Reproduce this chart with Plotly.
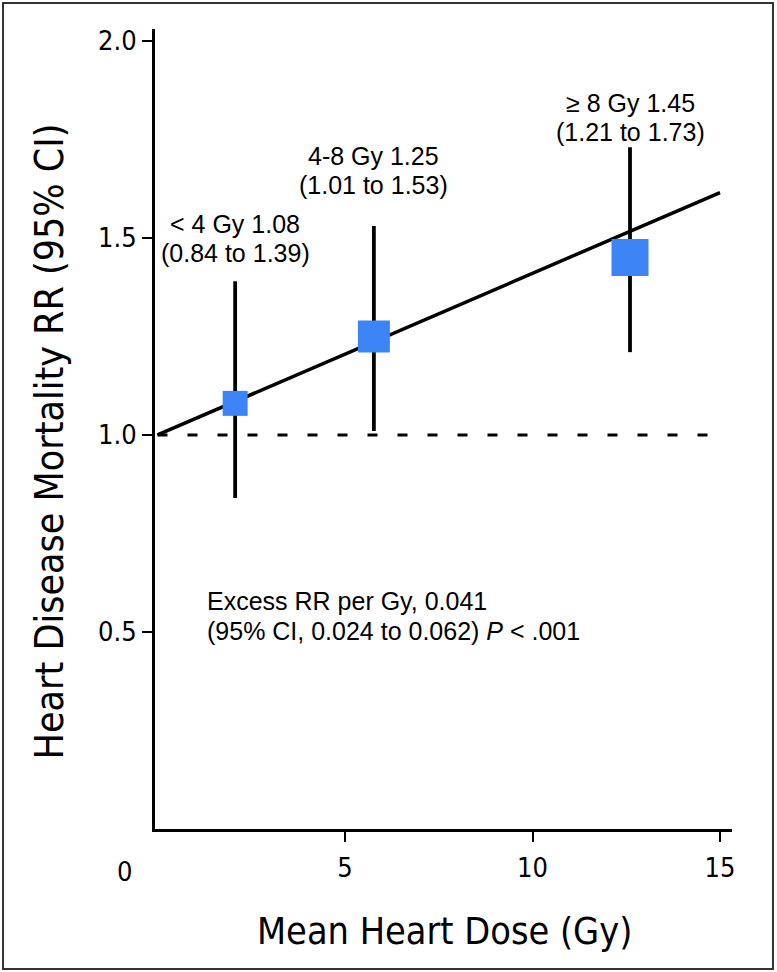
import plotly.graph_objects as go

# Data
dose_groups = ["< 4 Gy", "4-8 Gy", "≥ 8 Gy"]
mean_dose = [2.07, 5.77, 12.6]
rr = [1.08, 1.25, 1.45]
ci_low = [0.84, 1.01, 1.21]
ci_high = [1.39, 1.53, 1.73]
excess_rr_per_gy = 0.041
excess_ci = "0.024 to 0.062"
fit_dose = [0, 15]
x_ticks = [5, 10, 15]
y_ticks = [0.5, 1.0, 1.5, 2.0]

marker_sizes = [25, 32, 37]
label_yshift = [28, 41, 15]
blue = "#3D85F6"
cond = "DejaVu Sans Condensed, Liberation Sans Narrow, sans-serif"
sans = "Liberation Sans, Arial, Helvetica, sans-serif"

fig = go.Figure()

# reference line RR = 1
fig.add_trace(go.Scatter(
    x=fit_dose, y=[1.0, 1.0], mode="lines",
    line=dict(color="black", width=3, dash="10px,20px"),
    hoverinfo="skip", showlegend=False))

# fitted line
fig.add_trace(go.Scatter(
    x=fit_dose, y=[1 + excess_rr_per_gy * d for d in fit_dose], mode="lines",
    line=dict(color="black", width=3.5),
    hoverinfo="skip", showlegend=False))

# CI bars
ex, ey = [], []
for d, lo, hi in zip(mean_dose, ci_low, ci_high):
    ex += [d, d, None]
    ey += [lo, hi, None]
fig.add_trace(go.Scatter(
    x=ex, y=ey, mode="lines", line=dict(color="black", width=3.8),
    hoverinfo="skip", showlegend=False))

# point estimates
fig.add_trace(go.Scatter(
    x=mean_dose, y=rr, mode="markers", opacity=1,
    marker=dict(symbol="square", size=marker_sizes, color=blue, opacity=1,
                line=dict(width=0)),
    showlegend=False))

annotations = []
for g, d, r, lo, hi, ys in zip(dose_groups, mean_dose, rr, ci_low, ci_high, label_yshift):
    for k, line in enumerate([f"{g} {r:.2f}", f"({lo:.2f} to {hi:.2f})"]):
        annotations.append(dict(
            x=d, y=hi, xref="x", yref="y", yanchor="middle", xanchor="center",
            yshift=ys + (29 if k == 0 else 0), showarrow=False,
            text=line, font=dict(family=sans, size=25, color="black")))

excess_lines = [f"Excess RR per Gy, {excess_rr_per_gy:.3f}",
                f"(95% CI, {excess_ci}) <i>P</i> < .001"]
for yy, line in zip([0.285, 0.2475], excess_lines):
    annotations.append(dict(
        x=0.087, y=yy, xref="paper", yref="paper", xanchor="left", yanchor="middle",
        showarrow=False, text=line,
        font=dict(family=sans, size=25, color="black")))

# "0" origin label
annotations.append(dict(
    x=0, y=0, xref="x", yref="paper", xanchor="center", yanchor="middle",
    xshift=-33, yshift=-42, showarrow=False, text="0",
    font=dict(family=cond, size=27, color="black")))

# axis titles
annotations.append(dict(
    x=0.501, y=-0.127, xref="paper", yref="paper", xanchor="center", yanchor="middle",
    showarrow=False, text="Mean Heart Dose (Gy)",
    font=dict(family=cond, size=37.5, color="black")))
annotations.append(dict(
    x=-0.183, y=0.485, xref="paper", yref="paper", xanchor="center", yanchor="middle",
    showarrow=False, text="Heart Disease Mortality RR (95% CI)", textangle=-90,
    font=dict(family=cond, size=39, color="black")))

fig.update_layout(
    width=777, height=972,
    margin=dict(l=155, r=45, t=29, b=143),
    paper_bgcolor="white", plot_bgcolor="white",
    annotations=annotations,
    shapes=[dict(type="rect", xref="paper", yref="paper",
                 x0=-0.2634, x1=1.071, y0=-0.175, y1=1.0325,
                 line=dict(color="#333333", width=2))],
)

fig.update_xaxes(
    range=[-0.067, 15.32], tickvals=x_ticks, ticktext=[str(t) for t in x_ticks],
    showline=True, linecolor="black", linewidth=3, ticks="outside",
    ticklen=10, tickwidth=2, tickcolor="black", showgrid=False, zeroline=False,
    ticklabelstandoff=3,
    tickfont=dict(family=cond, size=27, color="black"))
fig.update_yaxes(
    range=[0, 2.03], tickvals=y_ticks, ticktext=[f"{t:.1f}" for t in y_ticks],
    showline=True, linecolor="black", linewidth=3, ticks="outside",
    ticklen=10, tickwidth=2, tickcolor="black", showgrid=False, zeroline=False,
    tickfont=dict(family=cond, size=27, color="black"))

fig.write_html("out.html", config={"displayModeBar": False},
               post_script="document.body.style.margin='0';document.body.style.overflow='hidden';")
